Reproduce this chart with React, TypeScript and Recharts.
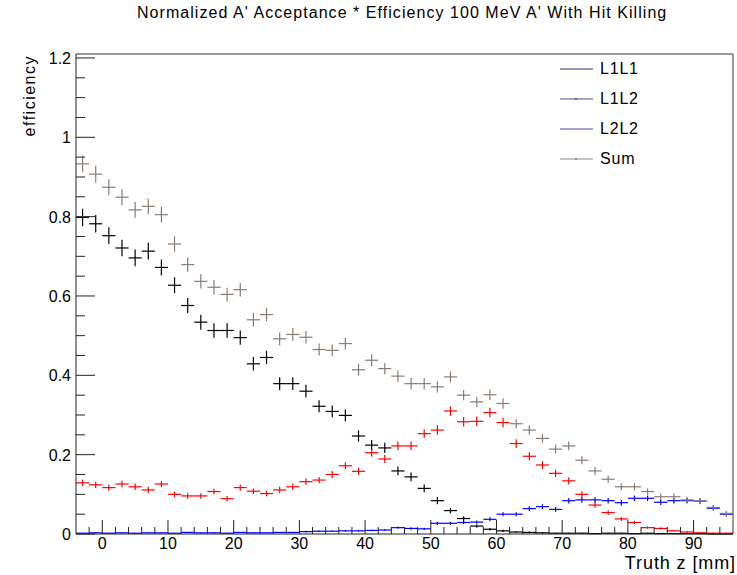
import { ScatterChart, Scatter, XAxis, YAxis, ErrorBar, ReferenceLine, Legend } from 'recharts';

const FONT = '"Liberation Sans", Arial, Helvetica, sans-serif';

// bin centres of the 2 mm wide bins, from -4 to 96 mm
const binCenters = [
  -3, -1, 1, 3, 5, 7, 9, 11, 13, 15, 17, 19, 21, 23, 25, 27, 29, 31, 33, 35, 37, 39, 41, 43, 45,
  47, 49, 51, 53, 55, 57, 59, 61, 63, 65, 67, 69, 71, 73, 75, 77, 79, 81, 83, 85, 87, 89, 91, 93, 95,
];
const binHalfWidth = 1;

const l1l1 = [
  0.798, 0.782, 0.752, 0.721, 0.696, 0.713, 0.672, 0.627, 0.576, 0.534, 0.513, 0.513, 0.495, 0.429, 0.445,
  0.379, 0.379, 0.36, 0.322, 0.309, 0.299, 0.247, 0.224, 0.217, 0.159, 0.144, 0.115, 0.084, 0.059, 0.039,
  0.02, 0.012, 0.008, 0.005, 0.004, 0.003, 0.002, 0.002, 0.002, 0.001, 0.002, 0.002, 0.001, 0.002, 0.001,
  0.001, 0.001, 0.001, 0.0, 0.0,
];
const l1l1Err = [
  0.022, 0.022, 0.021, 0.021, 0.021, 0.021, 0.02, 0.02, 0.019, 0.019, 0.018, 0.018, 0.018, 0.017, 0.017,
  0.016, 0.016, 0.016, 0.015, 0.015, 0.015, 0.014, 0.013, 0.013, 0.011, 0.011, 0.01, 0.009, 0.007, 0.006,
  0.004, 0.003, 0.003, 0.002, 0.002, 0.002, 0.001, 0.001, 0.001, 0.001, 0.001, 0.001, 0.001, 0.001, 0.001,
  0.001, 0.001, 0.001, 0.001, 0.001,
];

const l1l2 = [
  0.129, 0.124, 0.117, 0.126, 0.119, 0.111, 0.126, 0.1, 0.096, 0.096, 0.107, 0.089, 0.117, 0.108, 0.102,
  0.111, 0.119, 0.132, 0.136, 0.15, 0.172, 0.158, 0.205, 0.189, 0.222, 0.222, 0.253, 0.262, 0.31, 0.283,
  0.284, 0.306, 0.281, 0.228, 0.196, 0.174, 0.153, 0.134, 0.1, 0.073, 0.054, 0.038, 0.029, 0.016, 0.014,
  0.008, 0.005, 0.003, 0.002, 0.002,
];
const l1l2Err = [
  0.008, 0.008, 0.008, 0.008, 0.008, 0.008, 0.008, 0.007, 0.007, 0.007, 0.007, 0.007, 0.008, 0.007, 0.007,
  0.008, 0.008, 0.008, 0.008, 0.009, 0.009, 0.009, 0.01, 0.01, 0.011, 0.011, 0.011, 0.012, 0.012, 0.012,
  0.012, 0.012, 0.012, 0.011, 0.01, 0.01, 0.009, 0.009, 0.008, 0.007, 0.006, 0.005, 0.004, 0.003, 0.003,
  0.002, 0.002, 0.001, 0.001, 0.001,
];

const l2l2 = [
  0.002, 0.003, 0.002, 0.003, 0.002, 0.003, 0.003, 0.002, 0.004, 0.003, 0.003, 0.002, 0.004, 0.003, 0.003,
  0.004, 0.004, 0.006, 0.007, 0.007, 0.008, 0.008, 0.009, 0.01, 0.016, 0.014, 0.013, 0.027, 0.027, 0.029,
  0.03, 0.037, 0.05, 0.05, 0.064, 0.069, 0.062, 0.084, 0.086, 0.086, 0.084, 0.079, 0.09, 0.09, 0.08,
  0.084, 0.084, 0.083, 0.065, 0.05,
];
const l2l2Err = [
  0.001, 0.001, 0.001, 0.001, 0.001, 0.001, 0.001, 0.001, 0.001, 0.001, 0.001, 0.001, 0.001, 0.001, 0.001,
  0.001, 0.001, 0.002, 0.002, 0.002, 0.002, 0.002, 0.002, 0.002, 0.003, 0.003, 0.003, 0.004, 0.004, 0.004,
  0.004, 0.005, 0.005, 0.005, 0.006, 0.006, 0.006, 0.007, 0.007, 0.007, 0.007, 0.007, 0.007, 0.007, 0.007,
  0.007, 0.007, 0.007, 0.006, 0.006,
];

const sum = [
  0.933, 0.907, 0.874, 0.849, 0.817, 0.826, 0.805, 0.731, 0.679, 0.637, 0.622, 0.604, 0.616, 0.54, 0.553,
  0.492, 0.503, 0.496, 0.465, 0.463, 0.48, 0.414, 0.438, 0.417, 0.398, 0.379, 0.379, 0.371, 0.396, 0.35,
  0.333, 0.351, 0.329, 0.278, 0.262, 0.241, 0.214, 0.222, 0.186, 0.159, 0.138, 0.119, 0.119, 0.107, 0.094,
  0.094, 0.086, 0.083, 0.067, 0.052,
];
const sumErr = [
  0.021, 0.021, 0.02, 0.02, 0.02, 0.02, 0.02, 0.019, 0.018, 0.018, 0.018, 0.017, 0.017, 0.017, 0.017,
  0.016, 0.016, 0.016, 0.015, 0.015, 0.015, 0.015, 0.015, 0.014, 0.014, 0.014, 0.014, 0.014, 0.014, 0.013,
  0.013, 0.013, 0.013, 0.012, 0.012, 0.011, 0.011, 0.011, 0.01, 0.01, 0.009, 0.009, 0.009, 0.008, 0.008,
  0.008, 0.008, 0.008, 0.007, 0.006,
];

const xTicks = [
  -2, 0, 2, 4, 6, 8, 10, 12, 14, 16, 18, 20, 22, 24, 26, 28, 30, 32, 34, 36, 38, 40, 42, 44, 46, 48,
  50, 52, 54, 56, 58, 60, 62, 64, 66, 68, 70, 72, 74, 76, 78, 80, 82, 84, 86, 88, 90, 92, 94,
];
const xMajorTicks = [0, 10, 20, 30, 40, 50, 60, 70, 80, 90];
const yTicks = [
  0, 0.05, 0.1, 0.15, 0.2, 0.25, 0.3, 0.35, 0.4, 0.45, 0.5, 0.55, 0.6, 0.65, 0.7, 0.75, 0.8, 0.85, 0.9,
  0.95, 1, 1.05, 1.1, 1.15, 1.2,
];
const yMajorTicks = [0, 0.2, 0.4, 0.6, 0.8, 1, 1.2];

const series = [
  { name: 'L1L1', values: l1l1, errors: l1l1Err, color: '#000000', legendColor: '#34346e', dot: false },
  { name: 'L1L2', values: l1l2, errors: l1l2Err, color: '#ff0000', legendColor: '#4a4a9c', dot: true },
  { name: 'L2L2', values: l2l2, errors: l2l2Err, color: '#0000ff', legendColor: '#4242b4', dot: false },
  { name: 'Sum', values: sum, errors: sumErr, color: '#8a7b72', legendColor: '#8c8c8c', dot: true },
];

const toPoints = (values: number[], errors: number[]) =>
  binCenters.map((x, i) => ({ x, y: values[i], ex: binHalfWidth, ey: errors[i] }));

const XTick = (props: any) => {
  const { x, y, payload } = props;
  const major = xMajorTicks.includes(payload.value);
  return (
    <g>
      <line x1={x} x2={x} y1={y} y2={y - (major ? 14 : 7)} stroke="#222" />
      {major && (
        <text x={x} y={y + 15} textAnchor="middle" fontSize={16} fontFamily={FONT} fill="#000">
          {payload.value}
        </text>
      )}
    </g>
  );
};

const YTick = (props: any) => {
  const { x, y, payload } = props;
  const major = yMajorTicks.some((m) => Math.abs(m - payload.value) < 1e-6);
  return (
    <g>
      <line x1={x} x2={x + (major ? 19 : 9)} y1={y} y2={y} stroke="#222" />
      {major && (
        <text x={x - 5} y={y} dy={6} textAnchor="end" fontSize={16} fontFamily={FONT} fill="#000">
          {String(Number(payload.value.toFixed(2)))}
        </text>
      )}
    </g>
  );
};

const LegendBox = () => (
  <div style={{ fontFamily: FONT, fontSize: 16, color: '#000', letterSpacing: 0.8 }}>
    {series.map((s) => (
      <div key={s.name} style={{ display: 'flex', alignItems: 'center', height: 30 }}>
        <svg width={42} height={10}>
          <line x1={2} x2={35} y1={5} y2={5} stroke={s.legendColor} strokeWidth={1.2} />
          {s.dot && <circle cx={18} cy={5} r={1} fill={s.legendColor} />}
        </svg>
        <span>{s.name}</span>
      </div>
    ))}
  </div>
);

const renderNone = () => <g />;

export default function App() {
  return (
    <div style={{ position: 'absolute', left: 0, top: 0, width: 737, height: 575, background: '#fff', fontFamily: FONT }}>
      <div style={{ position: 'absolute', left: 137, top: 5, fontSize: 16, lineHeight: 1, letterSpacing: 1.05, whiteSpace: 'nowrap' }}>
        Normalized A' Acceptance * Efficiency 100 MeV A' With Hit Killing
      </div>
      <div
        style={{
          position: 'absolute',
          left: 21,
          top: 55,
          fontSize: 16,
          letterSpacing: 1.5,
          whiteSpace: 'nowrap',
          transformOrigin: 'top left',
          transform: 'rotate(-90deg) translateX(-100%)',
        }}
      >
        efficiency
      </div>
      <div style={{ position: 'absolute', left: 0, width: 736, top: 554, fontSize: 18, lineHeight: 1, letterSpacing: 0.9, textAlign: 'right', whiteSpace: 'nowrap' }}>
        Truth z [mm]
      </div>
      <ScatterChart width={737} height={575} margin={{ top: 54, right: 4, bottom: 0, left: 0 }}>
        <XAxis
          type="number"
          dataKey="x"
          domain={[-4, 96]}
          ticks={xTicks}
          interval={0}
          height={41}
          tickSize={0}
          tickMargin={0}
          tickLine={false}
          tick={XTick}
          axisLine={{ stroke: '#222' }}
          allowDataOverflow
        />
        <YAxis
          type="number"
          dataKey="y"
          domain={[0, 1.21]}
          ticks={yTicks}
          interval={0}
          width={76}
          tickSize={0}
          tickMargin={0}
          tickLine={false}
          tick={YTick}
          axisLine={{ stroke: '#222' }}
          allowDataOverflow
        />
        <ReferenceLine y={1.21} stroke="#777" strokeWidth={1.5} ifOverflow="visible" />
        <ReferenceLine x={96} stroke="#777" strokeWidth={1.5} ifOverflow="visible" />
        {series.map((s) => (
          <Scatter key={s.name} name={s.name} data={toPoints(s.values, s.errors)} shape={renderNone} isAnimationActive={false}>
            <ErrorBar dataKey="ex" direction="x" width={0} stroke={s.color} strokeWidth={1.2} isAnimationActive={false} />
            <ErrorBar dataKey="ey" direction="y" width={0} stroke={s.color} strokeWidth={1.2} isAnimationActive={false} />
          </Scatter>
        ))}
        <Legend
          layout="vertical"
          align="center"
          verticalAlign="middle"
          wrapperStyle={{ position: 'absolute', left: 558, top: 54, width: 140 }}
          content={LegendBox}
        />
      </ScatterChart>
    </div>
  );
}
